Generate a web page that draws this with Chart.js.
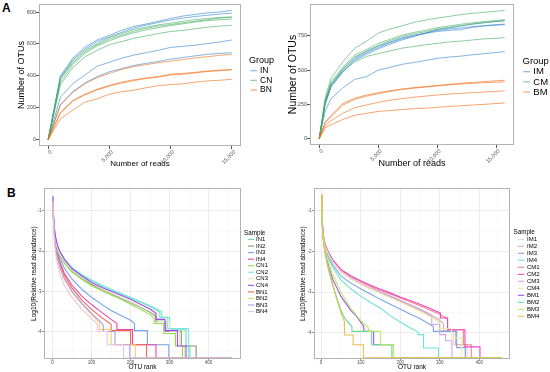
<!DOCTYPE html>
<html>
<head>
<meta charset="utf-8">
<script src="https://cdn.jsdelivr.net/npm/chart.js@4"></script>
<style>
  body { margin: 0; background: #fff; width: 550px; height: 372px; position: relative; overflow: hidden; font-family: "Liberation Sans", Arial, sans-serif; }
  canvas { position: absolute; }
  .tag { position: absolute; font-weight: bold; font-size: 12px; line-height: 12px; }
</style>
</head>
<body>
<div class="tag" style="left:2px;top:2px">A</div>
<div class="tag" style="left:7px;top:187px">B</div>
<canvas id="aLeft" width="275" height="185" style="left:0;top:0"></canvas>
<canvas id="aRight" width="275" height="185" style="left:275px;top:0"></canvas>
<canvas id="bLeft" width="275" height="187" style="left:0;top:185px"></canvas>
<canvas id="bRight" width="275" height="187" style="left:275px;top:185px"></canvas>
<script>
// ---- panel A: rarefaction curves (number of reads -> number of OTUs)
const readsN = [0, 1000, 2000, 3000, 4000, 5000, 6000, 7000, 8000, 9000, 10000, 11000, 12000, 13000, 14000, 15000];
const rareIN1 = [0, 400, 510, 580, 625, 655, 685, 710, 725, 742, 760, 775, 785, 795, 800, 810];
const rareIN2 = [0, 390, 500, 568, 615, 645, 672, 700, 718, 735, 750, 762, 772, 780, 787, 793];
const rareIN3 = [0, 265, 350, 405, 460, 485, 510, 530, 545, 560, 578, 585, 592, 602, 612, 625];
const rareIN4 = [0, 220, 300, 355, 395, 425, 445, 465, 478, 490, 505, 515, 525, 535, 540, 545];
const rareCN1 = [0, 385, 490, 560, 602, 640, 665, 690, 705, 720, 730, 742, 752, 760, 766, 770];
const rareCN2 = [0, 380, 480, 550, 595, 630, 655, 680, 698, 712, 722, 732, 742, 752, 762, 767];
const rareCN3 = [0, 360, 470, 540, 588, 620, 648, 670, 688, 702, 715, 726, 738, 746, 752, 756];
const rareCN4 = [0, 345, 450, 518, 560, 595, 615, 635, 650, 665, 678, 685, 695, 705, 712, 716];
const rareBN1 = [0, 215, 295, 350, 388, 415, 440, 458, 470, 482, 492, 502, 512, 520, 528, 535];
const rareBN2 = [0, 170, 245, 285, 315, 340, 360, 375, 386, 396, 410, 415, 422, 430, 436, 440];
const rareBN3 = [0, 165, 240, 280, 312, 335, 355, 370, 383, 392, 405, 410, 418, 427, 432, 437];
const rareBN4 = [0, 130, 185, 235, 255, 285, 300, 310, 325, 338, 345, 350, 360, 368, 372, 378];

const readsM = [0, 500, 1000, 2000, 3000, 4000, 5000, 6000, 7000, 8000, 9000, 10000, 11000, 12000, 13000, 14000, 15000, 15740];
const rareIM1 = [0, 265, 395, 505, 590, 635, 675, 705, 735, 755, 770, 790, 800, 808, 818, 825, 832, 836];
const rareIM2 = [0, 255, 385, 495, 580, 625, 665, 700, 728, 750, 768, 782, 790, 795, 812, 822, 828, 832];
const rareIM3 = [0, 250, 375, 485, 570, 615, 655, 690, 720, 745, 770, 795, 808, 822, 835, 845, 855, 860];
const rareIM4 = [0, 200, 292, 370, 432, 452, 500, 520, 542, 555, 570, 586, 595, 602, 612, 620, 628, 635];
const rareCM1 = [0, 300, 440, 560, 660, 710, 770, 800, 822, 848, 865, 880, 892, 905, 915, 922, 930, 936];
const rareCM2 = [0, 280, 415, 520, 610, 650, 695, 725, 755, 775, 790, 810, 822, 835, 845, 855, 862, 868];
const rareCM3 = [0, 270, 400, 510, 595, 640, 680, 715, 745, 765, 780, 800, 812, 825, 838, 848, 855, 862];
const rareCM4 = [0, 260, 390, 490, 560, 600, 620, 640, 660, 672, 685, 695, 705, 712, 720, 728, 733, 737];
const rareBM1 = [0, 120, 170, 255, 295, 318, 335, 350, 362, 372, 380, 388, 396, 404, 410, 416, 422, 426];
const rareBM2 = [0, 115, 160, 245, 285, 310, 328, 345, 358, 368, 376, 384, 392, 398, 404, 408, 412, 414];
const rareBM3 = [0, 95, 130, 185, 225, 245, 265, 280, 292, 302, 310, 318, 325, 330, 336, 340, 345, 348];
const rareBM4 = [0, 80, 100, 140, 170, 185, 198, 205, 212, 218, 222, 228, 235, 240, 245, 250, 256, 260];

const groupsN = ['IN', 'CN', 'BN'];
const groupsM = ['IM', 'CM', 'BM'];
const groupColors = ['rgba(49,130,206,0.6)', 'rgba(65,171,93,0.6)', 'rgba(241,105,19,0.6)'];
const readTicks = [0, 5000, 10000, 15000];
const otuTicksN = [0, 200, 400, 600, 800];
const otuTicksM = [0, 250, 500, 750];

// ---- panel B: rank-abundance, [OTU rank, log10(relative abundance)]
const rankIN1 = [[1,-0.66],[2,-1.05],[4,-1.4],[7,-1.65],[10,-1.8],[15,-1.95],[20,-2.05],[30,-2.22],[50,-2.43],[75,-2.6],[100,-2.74],[125,-2.86],[150,-2.97],[175,-3.07],[200,-3.17],[225,-3.27],[250,-3.38],[275,-3.52],[275,-3.66],[300,-3.66],[300,-3.96],[342,-3.96],[342,-4.36],[352,-4.36],[352,-4.66],[460,-4.66]];
const rankIN2 = [[1,-0.7],[2,-1.1],[4,-1.45],[7,-1.72],[10,-1.88],[15,-2.02],[20,-2.12],[30,-2.28],[50,-2.5],[75,-2.68],[100,-2.83],[125,-2.95],[150,-3.06],[175,-3.17],[200,-3.28],[225,-3.4],[250,-3.52],[265,-3.62],[265,-3.75],[290,-3.75],[290,-4.0],[330,-4.0],[330,-4.36],[368,-4.36],[368,-4.66],[460,-4.66]];
const rankIN3 = [[1,-0.75],[2,-1.15],[4,-1.5],[7,-1.78],[10,-1.93],[15,-2.08],[20,-2.2],[30,-2.42],[50,-2.7],[75,-2.95],[100,-3.15],[125,-3.32],[150,-3.48],[175,-3.6],[200,-3.72],[210,-3.8],[210,-3.98],[243,-3.98],[243,-4.33],[298,-4.33],[298,-4.66],[460,-4.66]];
const rankIN4 = [[1,-0.7],[2,-1.12],[4,-1.5],[7,-1.8],[10,-1.97],[15,-2.15],[20,-2.3],[30,-2.55],[50,-2.85],[75,-3.12],[100,-3.33],[125,-3.52],[150,-3.7],[165,-3.8],[165,-3.95],[205,-3.95],[205,-4.33],[265,-4.33],[265,-4.66],[460,-4.66]];
const rankCN1 = [[1,-0.72],[2,-1.12],[4,-1.48],[7,-1.75],[10,-1.9],[15,-2.04],[20,-2.14],[30,-2.3],[50,-2.52],[75,-2.7],[100,-2.86],[125,-2.98],[150,-3.09],[175,-3.2],[200,-3.32],[225,-3.45],[250,-3.58],[260,-3.66],[260,-3.8],[285,-3.8],[285,-4.05],[315,-4.05],[315,-4.36],[333,-4.36],[333,-4.66],[460,-4.66]];
const rankCN2 = [[1,-0.62],[2,-1.0],[4,-1.38],[7,-1.62],[10,-1.78],[15,-1.93],[20,-2.03],[30,-2.2],[50,-2.41],[75,-2.58],[100,-2.72],[125,-2.84],[150,-2.95],[175,-3.05],[200,-3.15],[225,-3.25],[250,-3.36],[280,-3.5],[280,-3.64],[295,-3.64],[295,-3.93],[348,-3.93],[348,-4.66],[460,-4.66]];
const rankCN3 = [[1,-0.68],[2,-1.08],[4,-1.42],[7,-1.7],[10,-1.85],[15,-2.0],[20,-2.1],[30,-2.26],[50,-2.48],[75,-2.66],[100,-2.8],[125,-2.93],[150,-3.04],[175,-3.15],[200,-3.26],[225,-3.38],[250,-3.5],[270,-3.62],[270,-3.75],[300,-3.75],[300,-4.0],[325,-4.0],[325,-4.36],[338,-4.36],[338,-4.66],[460,-4.66]];
const rankCN4 = [[1,-0.64],[2,-1.02],[4,-1.36],[7,-1.6],[10,-1.76],[15,-1.92],[20,-2.03],[30,-2.2],[50,-2.44],[75,-2.62],[100,-2.78],[125,-2.9],[150,-3.0],[175,-3.1],[200,-3.2],[225,-3.32],[250,-3.44],[265,-3.55],[265,-3.7],[288,-3.7],[288,-3.98],[320,-3.98],[320,-4.36],[342,-4.36],[342,-4.66],[460,-4.66]];
const rankBN1 = [[1,-0.72],[2,-1.15],[4,-1.55],[7,-1.85],[10,-2.02],[15,-2.2],[20,-2.35],[30,-2.6],[50,-2.92],[75,-3.22],[100,-3.45],[125,-3.65],[150,-3.82],[150,-3.98],[200,-3.98],[200,-4.33],[241,-4.33],[241,-4.66],[460,-4.66]];
const rankBN2 = [[1,-0.74],[2,-1.18],[4,-1.58],[7,-1.9],[10,-2.08],[15,-2.28],[20,-2.45],[30,-2.7],[50,-3.02],[75,-3.32],[100,-3.58],[120,-3.78],[120,-3.95],[150,-3.95],[150,-4.33],[212,-4.33],[212,-4.66],[460,-4.66]];
const rankBN3 = [[1,-0.68],[2,-1.12],[4,-1.55],[7,-1.88],[10,-2.06],[15,-2.25],[20,-2.42],[30,-2.68],[50,-3.0],[75,-3.3],[100,-3.55],[125,-3.78],[130,-3.85],[130,-4.0],[160,-4.0],[160,-4.33],[198,-4.33],[198,-4.66],[460,-4.66]];
const rankBN4 = [[1,-0.78],[2,-1.22],[4,-1.65],[7,-2.0],[10,-2.2],[15,-2.42],[20,-2.6],[30,-2.85],[50,-3.15],[75,-3.45],[100,-3.68],[115,-3.82],[115,-4.0],[140,-4.0],[140,-4.33],[182,-4.33],[182,-4.66],[460,-4.66]];

const rankIM1 = [[1,-0.62],[2,-1.05],[4,-1.45],[7,-1.72],[10,-1.85],[15,-1.98],[20,-2.08],[30,-2.25],[50,-2.48],[75,-2.65],[100,-2.78],[125,-2.9],[150,-3.0],[175,-3.1],[200,-3.2],[225,-3.31],[250,-3.42],[275,-3.54],[300,-3.66],[300,-3.95],[335,-3.95],[335,-4.3],[370,-4.3],[370,-4.62],[457,-4.62]];
const rankIM2 = [[1,-0.65],[2,-1.08],[4,-1.47],[7,-1.74],[10,-1.87],[15,-2.0],[20,-2.1],[30,-2.27],[50,-2.5],[75,-2.67],[100,-2.8],[125,-2.92],[150,-3.02],[175,-3.12],[200,-3.22],[225,-3.34],[250,-3.45],[275,-3.57],[300,-3.7],[310,-3.78],[310,-3.97],[340,-3.97],[340,-4.3],[365,-4.3],[365,-4.62],[457,-4.62]];
const rankIM3 = [[1,-0.68],[2,-1.1],[4,-1.5],[7,-1.77],[10,-1.9],[15,-2.05],[20,-2.15],[30,-2.34],[50,-2.6],[75,-2.78],[100,-2.92],[125,-3.05],[150,-3.18],[175,-3.3],[200,-3.42],[225,-3.54],[250,-3.65],[284,-3.85],[284,-3.97],[343,-3.97],[343,-4.37],[365,-4.37],[365,-4.62],[457,-4.62]];
const rankIM4 = [[1,-0.7],[2,-1.1],[4,-1.5],[7,-1.8],[10,-1.95],[15,-2.1],[20,-2.2],[30,-2.4],[50,-2.7],[75,-2.92],[100,-3.1],[125,-3.25],[150,-3.4],[175,-3.58],[200,-3.74],[225,-3.88],[245,-3.98],[245,-4.05],[259,-4.05],[259,-4.38],[297,-4.38],[297,-4.62],[457,-4.62]];
const rankCM1 = [[1,-0.63],[2,-1.04],[4,-1.43],[7,-1.7],[10,-1.83],[15,-1.96],[20,-2.06],[30,-2.23],[50,-2.46],[75,-2.62],[100,-2.74],[125,-2.86],[150,-2.96],[175,-3.05],[200,-3.14],[225,-3.24],[250,-3.34],[275,-3.44],[300,-3.55],[320,-3.65],[320,-3.93],[360,-3.93],[360,-4.3],[380,-4.3],[380,-4.62],[457,-4.62]];
const rankCM2 = [[1,-0.6],[2,-1.02],[4,-1.4],[7,-1.68],[10,-1.81],[15,-1.94],[20,-2.04],[30,-2.21],[50,-2.44],[75,-2.6],[100,-2.72],[125,-2.83],[150,-2.93],[175,-3.02],[200,-3.12],[225,-3.21],[250,-3.3],[275,-3.4],[302,-3.52],[302,-3.64],[320,-3.64],[320,-3.93],[364,-3.93],[364,-4.35],[402,-4.35],[402,-4.62],[457,-4.62]];
const rankCM3 = [[1,-0.66],[2,-1.06],[4,-1.45],[7,-1.72],[10,-1.85],[15,-1.98],[20,-2.08],[30,-2.25],[50,-2.48],[75,-2.65],[100,-2.78],[125,-2.9],[150,-3.0],[175,-3.1],[200,-3.2],[225,-3.31],[250,-3.42],[280,-3.58],[280,-3.8],[300,-3.8],[300,-4.05],[315,-4.05],[315,-4.2],[331,-4.2],[331,-4.62],[457,-4.62]];
const rankCM4 = [[1,-0.67],[2,-1.08],[4,-1.47],[7,-1.74],[10,-1.87],[15,-2.0],[20,-2.1],[30,-2.27],[50,-2.5],[75,-2.67],[100,-2.8],[125,-2.92],[150,-3.03],[175,-3.14],[200,-3.25],[225,-3.36],[250,-3.48],[275,-3.6],[295,-3.72],[295,-3.9],[330,-3.9],[330,-4.13],[356,-4.13],[356,-4.62],[457,-4.62]];
const rankBM1 = [[1,-0.65],[2,-1.1],[4,-1.5],[7,-1.8],[10,-1.98],[15,-2.2],[20,-2.4],[30,-2.7],[50,-3.1],[75,-3.45],[90,-3.6],[108,-3.85],[108,-3.97],[133,-3.97],[133,-4.3],[183,-4.3],[183,-4.62],[457,-4.62]];
const rankBM2 = [[1,-0.62],[2,-1.12],[4,-1.55],[7,-1.85],[10,-2.05],[15,-2.3],[20,-2.5],[30,-2.85],[40,-3.15],[50,-3.45],[60,-3.65],[78,-3.85],[78,-3.97],[128,-3.97],[128,-4.3],[179,-4.3],[179,-4.62],[457,-4.62]];
const rankBM3 = [[1,-0.6],[2,-1.08],[4,-1.48],[7,-1.75],[10,-1.95],[15,-2.15],[20,-2.3],[30,-2.6],[50,-3.0],[75,-3.4],[100,-3.7],[120,-3.88],[120,-3.97],[150,-3.97],[150,-4.3],[183,-4.3],[183,-4.62],[457,-4.62]];
const rankBM4 = [[1,-0.58],[2,-1.1],[4,-1.55],[7,-1.85],[10,-2.0],[15,-2.25],[20,-2.45],[30,-2.85],[40,-3.2],[50,-3.5],[59,-3.73],[59,-4.06],[81,-4.06],[81,-4.3],[107,-4.3],[107,-4.62],[457,-4.62]];

const samplesN = ['IN1','IN2','IN3','IN4','CN1','CN2','CN3','CN4','BN1','BN2','BN3','BN4'];
const samplesM = ['IM1','IM2','IM3','IM4','CM1','CM2','CM3','CM4','BM1','BM2','BM3','BM4'];
const sampleColorsN = ['#6fe3a6','#8f8f78','#73a3ea','#ef46ad','#8fe045','#7ee3ea','#dfe6c6','#a448f0','#f2684f','#f0d264','#b596ef','#ecc4e3'];
const sampleColorsM = ['#e3d3e6','#dcb394','#7fa3e3','#6fe2d6','#f28585','#ef45c3','#d3a3f0','#eaeab5','#a452f0','#63e090','#b3f063','#e8c052'];
const rankTicks = [0, 50, 100, 150, 200, 250, 300, 350, 400, 450];
const abundTicks = [-4.5, -4, -3.5, -3, -2.5, -2, -1.5, -1, -0.5];

const F = '"Liberation Sans", Arial, sans-serif';

const framePlugin = {
  id: 'frame',
  afterDatasetsDraw(chart) {
    const { left, top, right, bottom } = chart.chartArea;
    const ctx = chart.ctx;
    ctx.save();
    ctx.strokeStyle = '#b3b3b3';
    ctx.lineWidth = 1;
    ctx.strokeRect(Math.round(left) + 0.5, Math.round(top) + 0.5, Math.round(right - left) - 1, Math.round(bottom - top) - 1);
    ctx.restore();
  }
};

const sideLegend = {
  id: 'sideLegend',
  afterDraw(chart, args, o) {
    const ctx = chart.ctx;
    ctx.save();
    ctx.textBaseline = 'middle';
    ctx.textAlign = 'left';
    ctx.fillStyle = '#000';
    ctx.font = o.titleSize + 'px ' + F;
    ctx.fillText(o.title, o.x, o.y);
    ctx.font = o.size + 'px ' + F;
    o.labels.forEach((lab, i) => {
      const y = o.first + i * o.gap;
      ctx.strokeStyle = o.colors[i];
      ctx.lineWidth = o.lineWidth;
      ctx.beginPath();
      ctx.moveTo(o.k0, y);
      ctx.lineTo(o.k1, y);
      ctx.stroke();
      ctx.fillStyle = '#000';
      ctx.fillText(lab, o.tx, y);
    });
    ctx.restore();
  }
};

function fixedTicks(vals) {
  return s => { s.ticks = vals.map(value => ({ value })); };
}

function rareChart(id, xs, series, groups, yTicks, cfg) {
  const datasets = series.map((ys, i) => ({
    data: ys.map((y, j) => ({ x: xs[j], y })),
    borderColor: groupColors[Math.floor(i / 4)],
    borderWidth: 1,
    pointRadius: 0,
    tension: 0,
    order: series.length - i
  }));
  new Chart(document.getElementById(id), {
    type: 'line',
    data: { datasets },
    plugins: [framePlugin, sideLegend],
    options: {
      responsive: false, animation: false, devicePixelRatio: 1,
      layout: { padding: { left: 0, top: 4, right: cfg.padRight, bottom: 0 } },
      plugins: {
        legend: { display: false }, tooltip: { enabled: false },
        sideLegend: Object.assign({ title: 'Group', labels: groups, colors: groupColors, lineWidth: 1.2 }, cfg.legend)
      },
      scales: {
        x: {
          type: 'linear', min: cfg.xMin, max: cfg.xMax,
          afterBuildTicks: fixedTicks(readTicks),
          afterFit: s => { s.height = cfg.xHeight; },
          grid: { drawOnChartArea: false, color: '#555', tickLength: 3 },
          border: { display: false },
          ticks: { minRotation: 45, maxRotation: 45, autoSkip: false, padding: 0, labelOffset: 3, color: '#4d4d4d', font: { family: F, size: cfg.tickSize }, callback: v => v.toLocaleString('en-US') },
          title: { display: true, text: 'Number of reads', color: '#000', font: { family: F, size: cfg.xTitleSize }, padding: { top: 0, bottom: cfg.xTitlePad } }
        },
        y: {
          min: cfg.yMin, max: cfg.yMax,
          afterBuildTicks: fixedTicks(yTicks),
          afterFit: s => { s.width = cfg.yWidth; },
          grid: { drawOnChartArea: false, color: '#555', tickLength: 3 },
          border: { display: false },
          ticks: { padding: 0, color: '#4d4d4d', font: { family: F, size: cfg.tickSize } },
          title: { display: true, text: 'Number of OTUs', color: '#000', font: { family: F, size: cfg.yTitleSize }, padding: { top: cfg.yTitlePad, bottom: 0 } }
        }
      }
    }
  });
}

function rankChart(id, series, names, colors, cfg) {
  const datasets = series.map((pts, i) => ({
    data: pts.map(p => ({ x: p[0], y: p[1] })),
    borderColor: colors[i],
    borderWidth: 1.1,
    pointRadius: 0,
    tension: 0,
    order: series.length - i
  }));
  const major = v => Math.abs(v % 100) < 1e-9;
  new Chart(document.getElementById(id), {
    type: 'line',
    data: { datasets },
    plugins: [framePlugin, sideLegend],
    options: {
      responsive: false, animation: false, devicePixelRatio: 1,
      layout: { padding: { left: 0, top: 1, right: cfg.padRight, bottom: 0 } },
      plugins: {
        legend: { display: false }, tooltip: { enabled: false },
        sideLegend: Object.assign({ title: 'Sample', labels: names, colors, lineWidth: 1.1 }, cfg.legend)
      },
      scales: {
        x: {
          type: 'linear', min: cfg.xMin, max: cfg.xMax,
          afterBuildTicks: fixedTicks(rankTicks),
          afterFit: s => { s.height = 13; },
          grid: {
            color: c => major(c.tick.value) ? '#e8e8e8' : '#f3f3f3',
            lineWidth: c => major(c.tick.value) ? 0.8 : 0.5,
            tickColor: c => major(c.tick.value) ? '#777' : 'rgba(0,0,0,0)',
            tickLength: 1.5
          },
          border: { display: false },
          ticks: { padding: 0, color: '#4d4d4d', font: { family: F, size: 4.5 }, maxRotation: 0, autoSkip: false, callback: v => major(v) ? String(v) : '' },
          title: { display: true, text: 'OTU rank', color: '#000', font: { family: F, size: 6.5 }, padding: { top: 0, bottom: cfg.xTitlePad } }
        },
        y: {
          min: cfg.yMin, max: cfg.yMax,
          afterBuildTicks: fixedTicks(abundTicks),
          afterFit: s => { s.width = cfg.yWidth; },
          grid: {
            color: c => Number.isInteger(c.tick.value) ? '#e8e8e8' : '#f3f3f3',
            lineWidth: c => Number.isInteger(c.tick.value) ? 0.8 : 0.5,
            tickColor: c => Number.isInteger(c.tick.value) ? '#777' : 'rgba(0,0,0,0)',
            tickLength: 2
          },
          border: { display: false },
          ticks: { padding: 0.5, color: '#4d4d4d', font: { family: F, size: 4.5 }, autoSkip: false, callback: v => Number.isInteger(v) ? String(v) : '' },
          title: { display: true, text: 'Log10(Relative read abundance)', color: '#000', font: { family: F, size: 6.5 }, padding: { top: cfg.yTitlePad, bottom: 0 } }
        }
      }
    }
  });
}

rareChart('aLeft', readsN,
  [rareIN1, rareIN2, rareIN3, rareIN4, rareCN1, rareCN2, rareCN3, rareCN4, rareBN1, rareBN2, rareBN3, rareBN4],
  groupsN, otuTicksN,
  { padRight: 34, xMin: -750, xMax: 15750, yMin: -40.5, yMax: 850.5, xHeight: 39, yWidth: 39,
    tickSize: 5.5, xTitleSize: 8, xTitlePad: 16, yTitleSize: 9, yTitlePad: 16,
    legend: { x: 249, y: 61, titleSize: 9, size: 8.5, first: 70.7, gap: 9.65, k0: 250.5, k1: 257, tx: 260 } });

rareChart('aRight', readsM,
  [rareIM1, rareIM2, rareIM3, rareIM4, rareCM1, rareCM2, rareCM3, rareCM4, rareBM1, rareBM2, rareBM3, rareBM4],
  groupsM, otuTicksM,
  { padRight: 36, xMin: -787, xMax: 16527, yMin: -46.8, yMax: 982.8, xHeight: 40, yWidth: 35,
    tickSize: 5.5, xTitleSize: 9, xTitlePad: 16.5, yTitleSize: 10.5, yTitlePad: 12,
    legend: { x: 247.5, y: 61, titleSize: 9.5, size: 9.5, first: 71.7, gap: 10.2, k0: 248.3, k1: 255, tx: 258.3 } });

rankChart('bLeft',
  [rankIN1, rankIN2, rankIN3, rankIN4, rankCN1, rankCN2, rankCN3, rankCN4, rankBN1, rankBN2, rankBN3, rankBN4],
  samplesN, sampleColorsN,
  { padRight: 34, xMin: -22, xMax: 483, yMin: -4.685, yMax: -0.435, yWidth: 44, xTitlePad: 1, yTitlePad: 30,
    legend: { x: 244, y: 48, titleSize: 6.3, size: 6, first: 54.5, gap: 6.55, k0: 248, k1: 254, tx: 256 } });

rankChart('bRight',
  [rankIM1, rankIM2, rankIM3, rankIM4, rankCM1, rankCM2, rankCM3, rankCM4, rankBM1, rankBM2, rankBM3, rankBM4],
  samplesM, sampleColorsM,
  { padRight: 40, xMin: -18, xMax: 478, yMin: -4.65, yMax: -0.44, yWidth: 39, xTitlePad: 0.5, yTitlePad: 24.5,
    legend: { x: 238.5, y: 47.5, titleSize: 6.3, size: 6, first: 54.3, gap: 7.0, k0: 243, k1: 249, tx: 252 } });
</script>
</body>
</html>
